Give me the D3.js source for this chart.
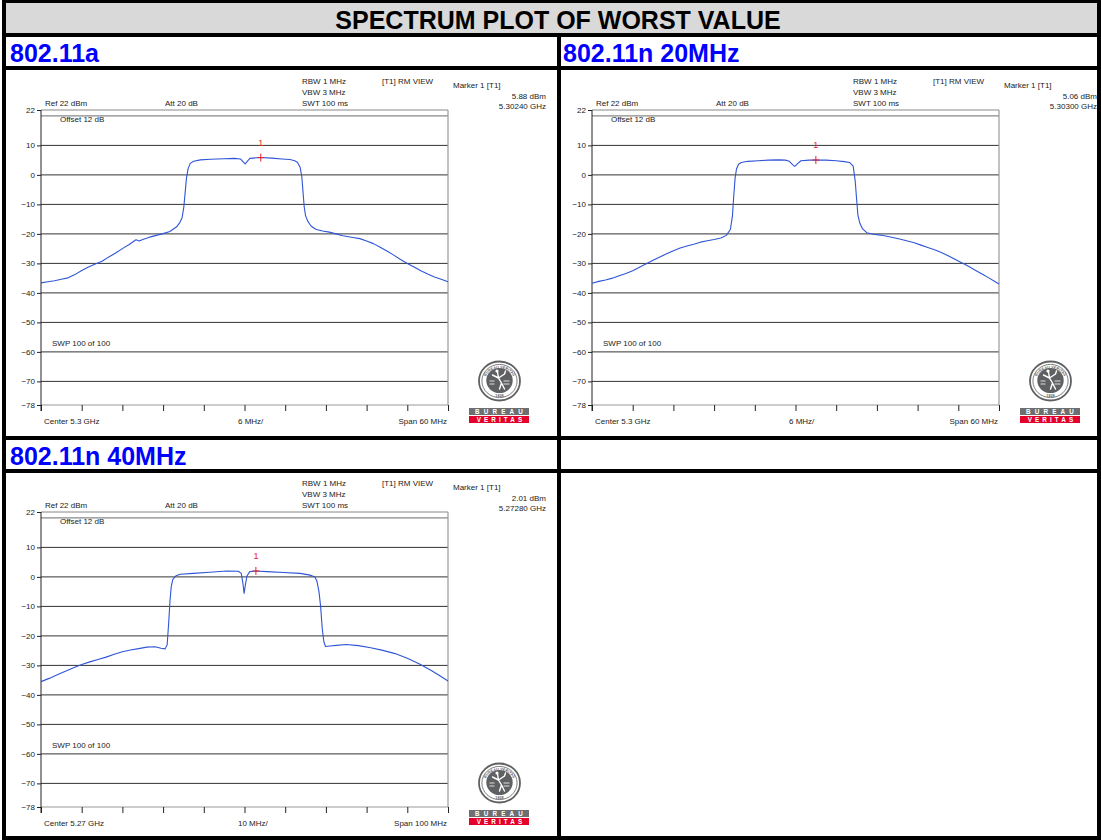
<!DOCTYPE html>
<html><head><meta charset="utf-8">
<script src="https://cdn.jsdelivr.net/npm/d3@7"></script>
<style>body{margin:0;background:#fff} text{font-family:"Liberation Sans",Arial,Helvetica,sans-serif}</style>
</head><body><svg id="c" width="1101" height="840"></svg>
<script>
// ---------------- DATA ----------------
const chartTitle = "SPECTRUM PLOT OF WORST VALUE";
const panelTitles = ["802.11a", "802.11n 20MHz", "802.11n 40MHz"];
const spanMHz = [60, 60, 100];
const centerLabels = ["Center 5.3 GHz", "Center 5.3 GHz", "Center 5.27 GHz"];
const divLabels = ["6 MHz/", "6 MHz/", "10 MHz/"];
const spanLabels = ["Span 60 MHz", "Span 60 MHz", "Span 100 MHz"];
const markerFreq = [2.4, 3.0, 2.8];      // MHz offset from center
const markerLevel = [5.88, 5.06, 2.01];  // dBm
const markerLevelText = ["5.88 dBm", "5.06 dBm", "2.01 dBm"];
const markerFreqText = ["5.30240 GHz", "5.30300 GHz", "5.27280 GHz"];
const yTickValues = [22, 10, 0, -10, -20, -30, -40, -50, -60, -70, -78];
const gridValues = [10, 0, -10, -20, -30, -40, -50, -60, -70];
const displayLine = 20;
const yDomain = [-78, 22];

// trace 802.11a : [freq offset MHz, level dBm]
const trace11a = [[-30,-36.6],[-29,-36.2],[-28,-35.9],[-27,-35.4],[-26,-34.9],[-25,-33.8],[-24,-32.4],[-23,-31.2],[-22,-30.2],[-21,-29.3],[-20,-27.8],[-19,-26.5],[-18,-25.0],[-17,-23.6],[-16,-22.0],[-15.5,-22.4],[-15,-21.9],[-14,-21.1],[-13,-20.5],[-12,-19.9],[-11,-19.2],[-10,-17.6],[-9.5,-16.0],[-9.2,-14.5],[-8.95,-11.0],[-8.75,-6.0],[-8.55,-1.0],[-8.3,2.2],[-8.0,3.9],[-7.5,4.6],[-6.5,5.1],[-5,5.3],[-3,5.5],[-1.5,5.6],[-0.6,5.4],[-0.2,4.4],[0.1,3.7],[0.4,4.6],[0.8,5.6],[2.4,5.88],[4,5.7],[5.5,5.4],[6.7,5.2],[7.4,4.8],[7.8,4.3],[8.2,2.6],[8.45,-0.6],[8.6,-5.0],[8.8,-10.8],[9.0,-13.8],[9.3,-15.6],[9.8,-17.3],[10.5,-18.4],[11.5,-19.0],[12.5,-19.4],[13.5,-20.0],[14.5,-20.6],[16,-21.2],[17,-21.6],[18,-22.4],[19,-23.3],[20,-24.5],[21,-25.8],[22,-27.2],[23,-28.7],[24,-30.0],[25,-31.2],[26,-32.5],[27,-33.6],[28,-34.6],[29,-35.4],[30,-36.2]];
// trace 802.11n 20MHz
const trace11n20 = [[-30,-36.7],[-29,-36.1],[-28,-35.6],[-27,-35.0],[-26,-34.2],[-25,-33.4],[-24,-32.5],[-23,-31.3],[-22,-30.1],[-21,-28.9],[-20,-27.8],[-19,-26.7],[-18,-25.7],[-17,-24.8],[-16,-24.1],[-15,-23.5],[-14,-22.8],[-13,-22.3],[-12,-21.9],[-11,-21.4],[-10.2,-20.5],[-9.6,-18.5],[-9.3,-14.0],[-9.1,-7.0],[-8.9,-1.0],[-8.7,2.0],[-8.4,3.6],[-8.0,4.2],[-7,4.6],[-5.5,4.8],[-4,5.0],[-2.5,5.1],[-1.5,5.0],[-0.9,4.6],[-0.4,3.4],[-0.1,2.9],[0.3,3.8],[0.8,4.8],[2,5.0],[3.0,5.06],[4.5,5.0],[6,4.8],[7.2,4.5],[8.0,4.2],[8.5,3.0],[8.8,-2.0],[9.0,-8.0],[9.2,-13.6],[9.5,-16.5],[9.9,-18.3],[10.5,-19.6],[11.5,-20.1],[12.5,-20.4],[13.5,-20.8],[14.5,-21.3],[15.5,-21.8],[16.5,-22.4],[17.5,-23.0],[18.5,-23.8],[19.5,-24.6],[20.5,-25.4],[21.5,-26.3],[22.5,-27.4],[23.5,-28.6],[24.5,-29.8],[25.5,-31.0],[26.5,-32.3],[27.5,-33.6],[28.5,-34.9],[29.5,-36.3],[30,-37.0]];
// trace 802.11n 40MHz
const trace11n40 = [[-50,-35.5],[-48,-34.4],[-46,-33.2],[-44,-32.0],[-42,-30.8],[-40,-29.7],[-38,-28.8],[-36,-28.0],[-34,-27.2],[-32,-26.2],[-30,-25.4],[-28,-24.8],[-26,-24.3],[-24,-23.8],[-22,-23.7],[-20.5,-24.2],[-19.5,-24.4],[-19.0,-23.0],[-18.6,-15.0],[-18.3,-8.0],[-18.0,-3.3],[-17.6,-0.8],[-16.8,0.4],[-15.8,0.9],[-12.6,1.2],[-8.5,1.6],[-4.4,2.0],[-1.5,1.9],[-0.8,1.2],[-0.4,-2.0],[-0.1,-5.6],[0.3,-2.0],[0.6,0.3],[1.3,1.8],[2.8,2.01],[5.5,1.8],[9.6,1.5],[13.7,1.2],[16.1,0.6],[17.3,0.0],[17.8,-1.5],[18.3,-5.0],[18.7,-10.0],[19.1,-17.5],[19.5,-22.0],[19.9,-23.6],[21,-23.4],[22.6,-23.2],[25,-22.9],[28,-23.3],[31,-24.0],[34,-24.9],[37,-26.0],[40,-27.6],[43,-29.5],[46,-31.8],[48,-33.5],[50,-35.3]];
const traces = [trace11a, trace11n20, trace11n40];

// ---------------- DRAW ----------------
const svg = d3.select("#c");
const FONT = 8;
const TXT = "#222";

// title background
svg.append("rect").attr("x",6).attr("y",3).attr("width",1091).attr("height",30).attr("fill","#d9d9d9");
svg.append("text").attr("x",558).attr("y",29).attr("text-anchor","middle")
  .attr("font-size",25).attr("font-weight","bold").attr("fill","#000").text(chartTitle);

// panel title labels
const labelPos = [[10,62],[563,62],[10,465]];
panelTitles.forEach((t,i)=>{
  svg.append("text").attr("x",labelPos[i][0]).attr("y",labelPos[i][1])
    .attr("font-size",25).attr("font-weight","bold").attr("fill","#0000ff").text(t);
});

const origins = [[0,0],[551,0],[0,402]];

function drawPanel(i){
  const [ox, oy] = origins[i];
  const g = svg.append("g");
  const x = d3.scaleLinear().domain([-spanMHz[i]/2, spanMHz[i]/2]).range([41+ox, 448+ox]);
  const y = d3.scaleLinear().domain(yDomain).range([405+oy, 110+oy]);
  const x0 = x.range()[0], x1 = x.range()[1];

  // gridlines
  g.selectAll("line.grid").data(gridValues).enter().append("line")
    .attr("x1",x0).attr("x2",x1).attr("y1",d=>y(d)).attr("y2",d=>y(d))
    .attr("stroke","#333").attr("stroke-width",1);
  // frame
  g.append("line").attr("x1",x0).attr("x2",x1).attr("y1",y(22)).attr("y2",y(22)).attr("stroke","#888").attr("stroke-width",1);
  g.append("line").attr("x1",x0).attr("x2",x1).attr("y1",y(displayLine)).attr("y2",y(displayLine)).attr("stroke","#888").attr("stroke-width",1.2);
  g.append("line").attr("x1",x0).attr("x2",x1).attr("y1",y(-78)).attr("y2",y(-78)).attr("stroke","#999").attr("stroke-width",1.2);
  g.append("line").attr("x1",x1).attr("x2",x1).attr("y1",y(22)).attr("y2",y(-78)).attr("stroke","#999").attr("stroke-width",1.2);

  // y axis
  const yAxis = d3.axisLeft(y).tickValues(yTickValues).tickSize(4).tickPadding(2).tickFormat(d3.format("d"));
  const ya = g.append("g").attr("transform",`translate(${x0},0)`).call(yAxis);
  ya.select(".domain").attr("stroke","#222").attr("d",`M0,${y(22)}V${y(-78)+6}`);
  ya.selectAll(".tick line").attr("stroke","#222");
  ya.selectAll(".tick text").attr("font-size",FONT).attr("fill",TXT).attr("font-family",'"Liberation Sans",Arial,sans-serif');

  // x ticks
  const divs = d3.range(0, 11).map(k => -spanMHz[i]/2 + k*spanMHz[i]/10);
  const xAxis = d3.axisBottom(x).tickValues(divs).tickSize(6).tickFormat("");
  const xa = g.append("g").attr("transform",`translate(0,${y(-78)})`).call(xAxis);
  xa.select(".domain").remove();
  xa.selectAll(".tick line").attr("stroke","#222");

  // header texts
  const t = (tx,ty,s,anchor)=> g.append("text").attr("x",ox+tx).attr("y",oy+ty)
     .attr("font-size",FONT).attr("fill",TXT).attr("text-anchor",anchor||"start").text(s);
  t(302,84,"RBW 1 MHz"); t(302,95,"VBW 3 MHz"); t(302,106,"SWT 100 ms");
  t(382,84,"[T1] RM VIEW");
  t(453,88,"Marker 1 [T1]");
  t(546,99,markerLevelText[i],"end");
  t(546,109,markerFreqText[i],"end");
  t(45,106,"Ref 22 dBm"); t(165,106,"Att  20 dB");
  t(60,122,"Offset 12 dB");
  t(52,346,"SWP 100 of 100");
  t(44,424,centerLabels[i]); t(238,424,divLabels[i]); t(447,424,spanLabels[i],"end");

  // trace
  const line = d3.line().x(d=>x(d[0])).y(d=>y(d[1]));
  g.append("path").datum(traces[i]).attr("d",line).attr("fill","none")
    .attr("stroke","#2f55d6").attr("stroke-width",1.1).attr("stroke-linejoin","round");

  // marker
  const mx = x(markerFreq[i]), my = y(markerLevel[i]);
  g.append("path").attr("d",`M${mx-3.5},${my}H${mx+3.5}M${mx},${my-4}V${my+4}`)
    .attr("stroke","#e8202a").attr("stroke-width",1);
  g.append("text").attr("x",mx).attr("y",my-12).attr("text-anchor","middle")
    .attr("font-size",9).attr("fill","#e8202a").text("1");

  drawLogo(ox+499.5, oy+381);
}

function drawLogo(cx, cy){
  const g = svg.append("g").attr("transform",`translate(${cx},${cy})`);
  g.append("ellipse").attr("rx",20.5).attr("ry",19.5).attr("fill","#fff").attr("stroke","#5f6062").attr("stroke-width",1.8);
  g.append("ellipse").attr("rx",17.6).attr("ry",16.6).attr("fill","none").attr("stroke","#5f6062").attr("stroke-width",0.8);
  const id = "lp"+Math.round(cx)+"_"+Math.round(cy);
  g.append("path").attr("id",id).attr("d","M-15.6,2 A15.6,14.6 0 1 1 15.6,2").attr("fill","none");
  g.append("text").attr("font-size",3.8).attr("font-weight","bold").attr("fill","#5f6062")
    .append("textPath").attr("href","#"+id).attr("startOffset","50%").attr("text-anchor","middle").text("BUREAU  VERITAS");
  g.append("text").attr("y",16).attr("text-anchor","middle").attr("font-size",3.8).attr("font-weight","bold").attr("fill","#5f6062").text("1828");
  g.append("ellipse").attr("cy",-0.5).attr("rx",13.2).attr("ry",12.6).attr("fill","#5f6062");
  // stylised figure
  g.append("path").attr("d","M-2,-9 L-1,-3 L2,2 L0,8 M2,2 L5,8 M-1,-3 L-7,-6 M-1,-3 L5,-7 M5,-7 L6,-10")
    .attr("stroke","#fff").attr("stroke-width",1.4).attr("fill","none").attr("stroke-linecap","round");
  g.append("circle").attr("cx",-2.5).attr("cy",-10).attr("r",1.6).attr("fill","#fff");
  g.append("path").attr("d","M-10,0 H-5 M-10,3 H-5 M4,0 H10 M4,3 H10").attr("stroke","#fff").attr("stroke-width",0.8);
  // boxes
  g.append("rect").attr("x",-30.5).attr("y",27).attr("width",60).attr("height",7).attr("fill","#6d6e70");
  g.append("rect").attr("x",-30.5).attr("y",35).attr("width",60).attr("height",7).attr("fill","#e4002b");
  g.append("text").attr("x",1.5).attr("y",33).attr("text-anchor","middle").attr("font-size",6.3).attr("font-weight","bold")
    .attr("letter-spacing","4.2px").attr("fill","#fff").text("BUREAU");
  g.append("text").attr("x",1.5).attr("y",41).attr("text-anchor","middle").attr("font-size",6.3).attr("font-weight","bold")
    .attr("letter-spacing","3.1px").attr("fill","#fff").text("VERITAS");
}

[0,1,2].forEach(drawPanel);

// table borders
const B = "#000";
const hb = [[0,3],[33,4],[66,4],[436,4],[469,4],[836,4]];
hb.forEach(([yy,h])=> svg.append("rect").attr("x",2).attr("y",yy).attr("width",1099).attr("height",h).attr("fill",B));
svg.append("rect").attr("x",2).attr("y",0).attr("width",4).attr("height",840).attr("fill",B);
svg.append("rect").attr("x",1097).attr("y",0).attr("width",4).attr("height",840).attr("fill",B);
svg.append("rect").attr("x",557).attr("y",37).attr("width",4).attr("height",803).attr("fill",B);
</script></body></html>
